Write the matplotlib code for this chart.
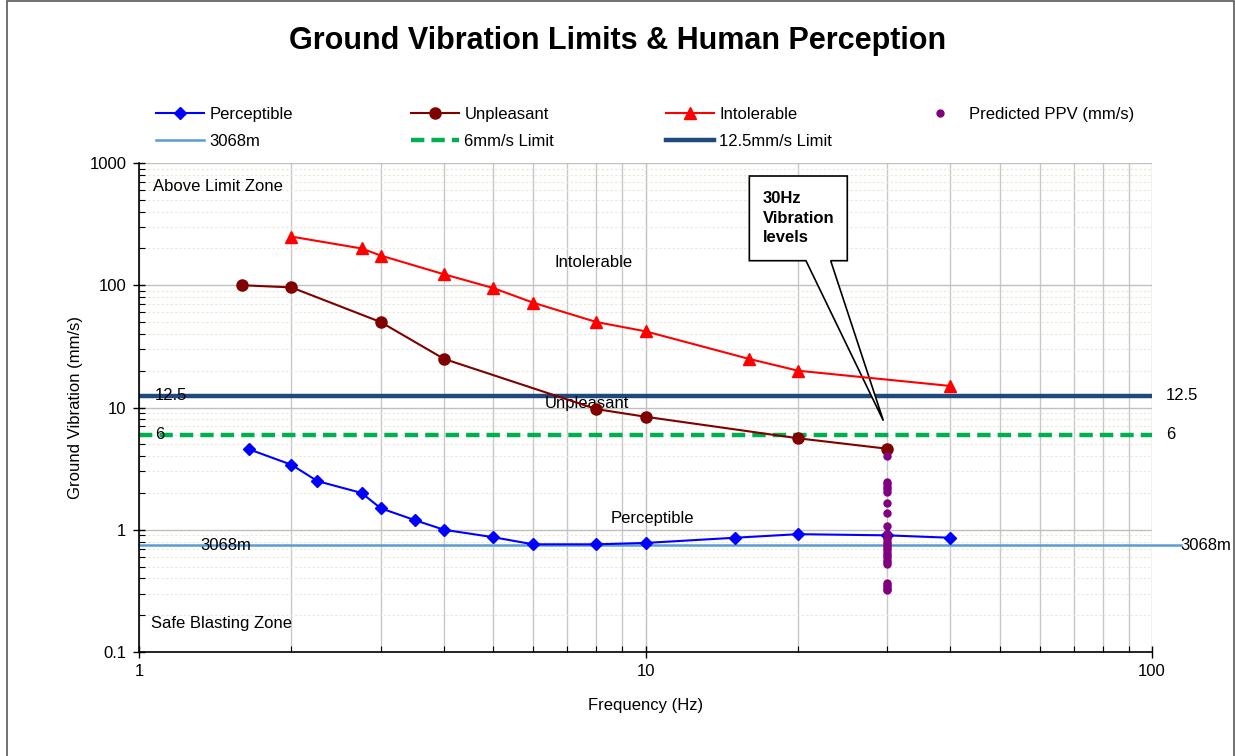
import matplotlib

matplotlib.use('Agg')
import matplotlib.pyplot as plt
from matplotlib.patches import Polygon, Rectangle
from matplotlib.ticker import LogLocator, NullFormatter, FixedLocator, FixedFormatter

plt.rcParams['font.family'] = ['Liberation Sans', 'DejaVu Sans']

# 感知曲线 (Perceptible)
FREQ_PERC = [1.65, 2, 2.25, 2.75, 3, 3.5, 4, 5, 6, 8, 10, 15, 20, 30, 40]
PPV_PERC = [4.55, 3.4, 2.5, 2.0, 1.5, 1.2, 1.0, 0.87, 0.76, 0.76, 0.78, 0.86, 0.92, 0.9, 0.86]

# Unpleasant
FREQ_UNPL = [1.6, 2, 3, 4, 8, 10, 20, 30]
PPV_UNPL = [100, 96, 50, 25, 9.7, 8.4, 5.6, 4.6]

# Intolerable
FREQ_INTOL = [2, 2.75, 3, 4, 5, 6, 8, 10, 16, 20, 40]
PPV_INTOL = [250, 200, 175, 123, 95, 72, 50, 42, 25, 20, 15]

# predicted PPV at 30 Hz
PPV_30HZ = [4.0, 2.47, 2.37, 2.25, 2.14, 2.05, 1.65, 1.38, 1.08, 0.92, 0.88, 0.84,
            0.80, 0.77, 0.74, 0.71, 0.68, 0.65, 0.62, 0.60, 0.57, 0.54, 0.52,
            0.37, 0.35, 0.34, 0.33, 0.32]
FREQ_30HZ = [30] * len(PPV_30HZ)

# horizontal reference lines
LIMIT_HIGH = 12.5
LIMIT_LOW = 6
DIST_LEVEL = 0.75
DIST_LABEL = '3068m'
DIST_X = [1, 114]

X_LIMIT = (1, 100)
Y_LIMIT = (0.1, 1000)

fig = plt.figure(figsize=(12.35, 7.56), dpi=100)
ax = fig.add_axes([139 / 1235, 1 - 652 / 756, 1013 / 1235, 489 / 756])

# 网格
ax.set_xscale('log')
ax.set_yscale('log')
ax.set_xlim(X_LIMIT)
ax.set_ylim(Y_LIMIT)
ax.xaxis.set_minor_locator(LogLocator(base=10, subs=range(2, 10)))
ax.yaxis.set_minor_locator(LogLocator(base=10, subs=range(2, 10)))
ax.xaxis.set_major_locator(FixedLocator([1, 10, 100]))
ax.xaxis.set_major_formatter(FixedFormatter(['1', '10', '100']))
ax.yaxis.set_major_locator(FixedLocator([0.1, 1, 10, 100, 1000]))
ax.yaxis.set_major_formatter(FixedFormatter(['0.1', '1', '10', '100', '1000']))
ax.xaxis.set_minor_formatter(NullFormatter())
ax.yaxis.set_minor_formatter(NullFormatter())
ax.grid(True, which='major', color='#c0c0c0', lw=1.0, zorder=0)
ax.grid(True, which='minor', axis='x', color='#c8c8c8', lw=1.0, zorder=0)
ax.grid(True, which='minor', axis='y', color='#e8e8d6', lw=0.8, ls=(0, (2, 2)), zorder=0)
ax.set_axisbelow(True)
for s in ['top', 'right']:
    ax.spines[s].set_visible(False)
for s in ['left', 'bottom']:
    ax.spines[s].set_color('black')
    ax.spines[s].set_linewidth(1.2)
ax.tick_params(which='major', direction='inout', length=8, width=1, labelsize=12, pad=5)
ax.tick_params(which='minor', direction='in', length=4, width=0.8)

# 参考线
h_dist, = ax.plot(DIST_X, [DIST_LEVEL, DIST_LEVEL], color='#5b9bd5', lw=1.8,
                  clip_on=False, zorder=2, label=DIST_LABEL)
h_low = ax.axhline(LIMIT_LOW, color='#00b050', lw=3.2, ls=(0, (3, 1.6)), zorder=2,
                   label='6mm/s Limit')
h_high = ax.axhline(LIMIT_HIGH, color='#1f497d', lw=3.2, zorder=2, label='12.5mm/s Limit')

# callout box
callout = Polygon([(0.6025, 0.8002), (0.6025, 0.9734), (0.6992, 0.9734), (0.6992, 0.8002),
                   (0.6828, 0.8002), (0.7348, 0.473), (0.6584, 0.8002)],
                  closed=True, transform=ax.transAxes, facecolor='white',
                  edgecolor='black', lw=1.2, zorder=2.5)
ax.add_patch(callout)
ax.text(0.6157, 0.8875, '30Hz\nVibration\nlevels', transform=ax.transAxes,
        fontsize=12, fontweight='bold', ha='left', va='center', linespacing=1.4, zorder=2.6)

# 数据曲线
h_perc, = ax.plot(FREQ_PERC, PPV_PERC, color='#0000ff', marker='D', ms=6, lw=1.5,
                  zorder=4, label='Perceptible')
h_unpl, = ax.plot(FREQ_UNPL, PPV_UNPL, color='#800000', marker='o', ms=8, lw=1.5,
                  zorder=4, label='Unpleasant')
h_intol, = ax.plot(FREQ_INTOL, PPV_INTOL, color='#ff0000', marker='^', ms=8, lw=1.5,
                   zorder=4, label='Intolerable')
h_ppv, = ax.plot(FREQ_30HZ, PPV_30HZ, ls='none', color='#800080', marker='o', ms=5,
                 zorder=5, label='Predicted PPV (mm/s)')

# labels on the reference lines
ytr = ax.get_yaxis_transform()
for val, txt, xl, xr in [(LIMIT_HIGH, '12.5', 0.0158, 1.0138),
                         (LIMIT_LOW, '6', 0.0158, 1.0138),
                         (DIST_LEVEL, DIST_LABEL, 0.0602, 1.0276)]:
    ax.text(xl, val, txt, transform=ytr, fontsize=12, ha='left', va='center', zorder=3)
    ax.text(xr, val, txt, transform=ytr, fontsize=12, ha='left', va='center',
            clip_on=False, zorder=3)

# zone labels
for txt, x, y in [('Above Limit Zone', 0.0138, 0.951),
                  ('Intolerable', 0.4097, 0.7975),
                  ('Unpleasant', 0.4008, 0.509),
                  ('Perceptible', 0.466, 0.274),
                  ('Safe Blasting Zone', 0.0118, 0.0573)]:
    ax.text(x, y, txt, transform=ax.transAxes, fontsize=12, ha='left', va='center', zorder=3)

ax.set_xlabel('Frequency (Hz)', fontsize=12, labelpad=13)
ax.set_ylabel('Ground Vibration (mm/s)', fontsize=12, labelpad=5)

fig.text(0.5, 1 - 41 / 756, 'Ground Vibration Limits & Human Perception',
         fontsize=22, fontweight='bold', ha='center', va='center')

# 图例: 4 columns, 2 rows
columns = [([h_perc, h_dist], 156), ([h_unpl, h_low], 411),
           ([h_intol, h_high], 666), ([h_ppv], 916)]
for handles, px in columns:
    fig.legend(handles=handles, loc='upper left', bbox_to_anchor=(px / 1235, 1 - 107 / 756),
               frameon=False, fontsize=12, handlelength=2.9, handletextpad=0.3,
               labelspacing=0.72, borderpad=0, borderaxespad=0)

# figure border
fig.patches.append(Rectangle((7 / 1235, -0.01), 1227 / 1235, 1.0087, transform=fig.transFigure,
                             fill=False, edgecolor='#595959', lw=1.2))

fig.savefig('out.png', dpi=100)
